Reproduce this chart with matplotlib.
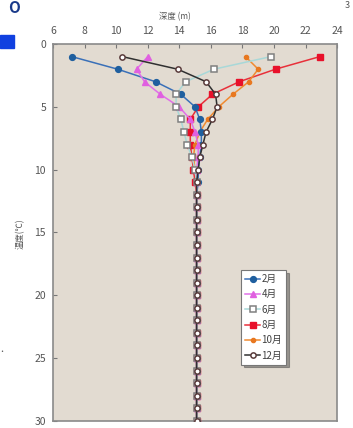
import matplotlib
matplotlib.use('Agg')
import matplotlib.pyplot as plt
import matplotlib.patches as pth

plt.rcParams['font.family'] = ['Noto Sans CJK SC', 'DejaVu Sans']

depth = list(range(1, 31))

feb = [7.2, 10.1, 12.5, 14.1, 15.0, 15.3, 15.4, 15.4, 15.3, 15.2,
       15.2, 15.1, 15.1, 15.1, 15.1, 15.1, 15.1, 15.1, 15.1, 15.1,
       15.1, 15.1, 15.1, 15.1, 15.1, 15.1, 15.1, 15.1, 15.1, 15.1]
apr = [12.0, 11.3, 11.8, 12.8, 14.0, 14.7, 15.0, 15.2, 15.2, 15.1,
       15.1, 15.1, 15.1, 15.1, 15.1, 15.1, 15.1, 15.1, 15.1, 15.1,
       15.1, 15.1, 15.1, 15.1, 15.1, 15.1, 15.1, 15.1, 15.1, 15.1]
jun = [19.8, 16.2, 14.4, 13.8, 13.8, 14.1, 14.3, 14.5, 14.8, 15.0,
       15.1, 15.1, 15.1, 15.1, 15.1, 15.1, 15.1, 15.1, 15.1, 15.1,
       15.1, 15.1, 15.1, 15.1, 15.1, 15.1, 15.1, 15.1, 15.1, 15.1]
aug = [22.9, 20.1, 17.8, 16.1, 15.2, 14.7, 14.7, 14.7, 14.8, 14.9,
       15.0, 15.1, 15.1, 15.1, 15.1, 15.1, 15.1, 15.1, 15.1, 15.1,
       15.1, 15.1, 15.1, 15.1, 15.1, 15.1, 15.1, 15.1, 15.1, 15.1]
octo = [18.2, 19.0, 18.4, 17.4, 16.5, 15.8, 15.3, 15.0, 14.9, 15.0,
        15.1, 15.1, 15.1, 15.1, 15.1, 15.1, 15.1, 15.1, 15.1, 15.1,
        15.1, 15.1, 15.1, 15.1, 15.1, 15.1, 15.1, 15.1, 15.1, 15.1]
dec = [10.4, 13.9, 15.7, 16.3, 16.4, 16.1, 15.7, 15.5, 15.3, 15.2,
       15.1, 15.1, 15.1, 15.1, 15.1, 15.1, 15.1, 15.1, 15.1, 15.1,
       15.1, 15.1, 15.1, 15.1, 15.1, 15.1, 15.1, 15.1, 15.1, 15.1]

labels = ['2月', '4月', '6月', '8月', '10月', '12月']
xticks = [6, 8, 10, 12, 14, 16, 18, 20, 22, 24]
yticks = [0, 5, 10, 15, 20, 25, 30]

figure = plt.figure(figsize=(3.53, 4.28), dpi=100)
axes = figure.add_axes([0.150, 0.017, 0.805, 0.880])
axes.set_facecolor('#e2dbd1')

lines = {}
lines['8'] = axes.plot(aug, depth, color='#e8303a', lw=1.1, marker='s', ms=4.2,
                       mfc='#e8102a', mec='#e8102a', label=labels[3], zorder=3)[0]
lines['10'] = axes.plot(octo, depth, color='#f08a30', lw=1.1, marker='o', ms=3,
                        mfc='#e87820', mec='#e87820', label=labels[4], zorder=3)[0]
lines['2'] = axes.plot(feb, depth, color='#3a70b8', lw=1.1, marker='o', ms=4.2,
                       mfc='#1f5f9f', mec='#1f5f9f', label=labels[0], zorder=4)[0]
lines['4'] = axes.plot(apr, depth, color='#e070e8', lw=1.1, marker='^', ms=4.2,
                       mfc='#e060e0', mec='#e060e0', label=labels[1], zorder=4)[0]
lines['6'] = axes.plot(jun, depth, color='#a8d8d8', lw=1.1, marker='s', ms=4.2,
                       mfc='white', mec='#808080', mew=1.1, label=labels[2], zorder=4)[0]
lines['12'] = axes.plot(dec, depth, color='#303030', lw=1.1, marker='o', ms=3.8,
                        mfc='white', mec='#5a3c3c', mew=1.1, label=labels[5], zorder=5)[0]

axes.set_xlim(6, 24)
axes.set_ylim(30, 0)
axes.set_xticks(xticks)
axes.set_yticks(yticks)
axes.xaxis.tick_top()
axes.tick_params(direction='in', length=3, colors='#777777',
                 labelcolor='#555555', labelsize=7.5, pad=5)
axes.tick_params(axis='x', pad=6)
for side in axes.spines.values():
    side.set_color('#8a8a8a')
    side.set_linewidth(1.2)

figure.text(0.495, 0.962, '深度 (m)', fontsize=6, color='#555555',
            ha='center', va='center')
figure.text(0.058, 0.455, '温度(℃)', fontsize=6, color='#555555',
            ha='center', va='center', rotation=90)

order = ['2', '4', '6', '8', '10', '12']
legend = axes.legend([lines[k] for k in order], labels,
                     loc='upper left', bbox_to_anchor=(0.663, 0.40),
                     fontsize=7, frameon=True, fancybox=False, shadow=True,
                     handlelength=1.5, handletextpad=0.15, borderpad=0.4,
                     labelspacing=0.55, borderaxespad=0)
legend.get_frame().set_edgecolor('#777777')
legend.get_frame().set_linewidth(0.8)
for text in legend.get_texts():
    text.set_color('#404040')

# cropped fragments at the picture's edges
figure.patches.append(pth.Rectangle((0.0, 0.888), 0.040, 0.030,
                                    transform=figure.transFigure,
                                    color='#1040e0'))
figure.text(0.040, 0.982, 'O', fontsize=11, color='#1a3a8a', weight='bold',
            ha='center', va='center')
figure.text(0.985, 0.988, '3', fontsize=6.5, color='#555555',
            ha='center', va='center')
figure.text(0.006, 0.178, '•', fontsize=5, color='#555555',
            ha='center', va='center')

figure.savefig('out.png', dpi=100)
